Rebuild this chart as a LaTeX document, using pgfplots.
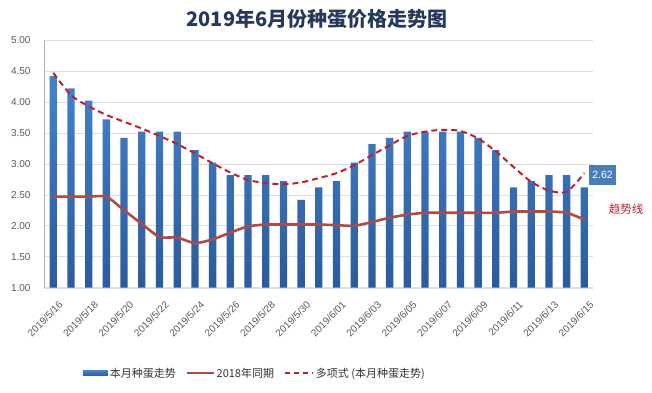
\documentclass[border=0pt]{standalone}
\usepackage{fontspec}
\setmainfont{Liberation Sans}
\newfontfamily\cjk{Noto Sans CJK SC}
\usepackage{pgfplots}
\pgfplotsset{compat=1.18}
\definecolor{bartop}{HTML}{4382CC}
\definecolor{barbot}{HTML}{2B5B9C}
\definecolor{barblue}{HTML}{3A6DB0}
\definecolor{line18}{HTML}{B04A45}
\definecolor{trendred}{HTML}{C0202A}
\definecolor{titlecol}{HTML}{253A5A}
\definecolor{tickgray}{HTML}{595959}
\definecolor{labelblue}{HTML}{4A7EBB}
\begin{document}
\begin{tikzpicture}
\useasboundingbox (-44pt,-104.3pt) rectangle (608pt,287.7pt);
\begin{axis}[
  scale only axis,
  width=549pt, height=247.7pt,
  xmin=-0.525, xmax=30.49,
  ymin=1, ymax=5,
  ytick={1,1.5,...,5},
  yticklabel style={/pgf/number format/fixed, /pgf/number format/fixed zerofill, /pgf/number format/precision=2, font=\fontsize{10}{12}\selectfont, text=tickgray, xshift=-10pt},
  /pgf/number format/assume math mode=true,
  xtick={0,2,...,30},
  xticklabels={2019/5/16,2019/5/18,2019/5/20,2019/5/22,2019/5/24,2019/5/26,2019/5/28,2019/5/30,2019/6/01,2019/6/03,2019/6/05,2019/6/07,2019/6/09,2019/6/11,2019/6/13,2019/6/15},
  xticklabel style={rotate=45, anchor=north east, font=\fontsize{10}{12}\selectfont, text=tickgray, xshift=-2pt, yshift=-9pt},
  major tick length=0pt,
  ymajorgrids,
  grid style={draw=gray!25, line width=0.6pt},
  axis x line*=bottom,
  axis y line*=left,
  x axis line style={draw=gray!25,-},
  y axis line style={draw=gray!60,-},
  clip=false,
  legend columns=3,
  legend style={draw=none, fill=none, at={(0.384,-0.345)}, anchor=center,
    font=\cjk\fontsize{11}{13}\selectfont, text=black!80,
    /tikz/every even column/.append style={column sep=8pt}},
]
\addplot[ybar, bar width=7.3pt, draw=none, top color=bartop, bottom color=barbot,
  legend image code/.code={\fill[barblue] (0pt,-2.8pt) rectangle (25pt,2.8pt);}]
coordinates {
(0,4.42)(1,4.22)(2,4.02)(3,3.72)(4,3.42)(5,3.52)(6,3.52)(7,3.52)(8,3.22)(9,3.02)
(10,2.82)(11,2.82)(12,2.82)(13,2.72)(14,2.42)(15,2.62)(16,2.72)(17,3.02)(18,3.32)(19,3.42)
(20,3.52)(21,3.52)(22,3.52)(23,3.52)(24,3.42)(25,3.22)(26,2.62)(27,2.72)(28,2.82)(29,2.82)(30,2.62)};
\addlegendentry{本月种蛋走势}
\addplot[line18, line width=2.6pt, smooth, tension=0.4, mark=none,
  legend image code/.code={\draw[draw=line18, line width=1.8pt] (0pt,0pt) -- (27pt,0pt);}]
coordinates {
(0,2.47)(1,2.47)(2,2.47)(3,2.47)(4,2.25)(5,2.03)(6,1.82)(7,1.81)(8,1.72)(9,1.78)
(10,1.89)(11,1.99)(12,2.02)(13,2.02)(14,2.02)(15,2.02)(16,2.01)(17,2.00)(18,2.06)(19,2.13)
(20,2.18)(21,2.21)(22,2.21)(23,2.21)(24,2.21)(25,2.21)(26,2.23)(27,2.23)(28,2.23)(29,2.21)(30,2.10)};
\addlegendentry{2018年同期}
\addplot[trendred, line width=2pt, dash pattern=on 6pt off 4pt, smooth, mark=none,
  legend image code/.code={\draw[draw=trendred, line width=1.8pt, dash pattern=on 5pt off 4pt] (0pt,0pt) -- (28pt,0pt);}]
coordinates {
(0,4.47)(1,4.11)(2,3.93)(3,3.79)(4,3.68)(5,3.57)(6,3.45)(7,3.32)(8,3.17)(9,3.01)
(10,2.86)(11,2.74)(12,2.69)(13,2.67)(14,2.70)(15,2.77)(16,2.85)(17,2.98)(18,3.14)(19,3.30)
(20,3.45)(21,3.52)(22,3.55)(23,3.53)(24,3.41)(25,3.20)(26,2.95)(27,2.71)(28,2.57)(29,2.55)(30,2.85)};
\addlegendentry{多项式 (本月种蛋走势)}
\node[fill=labelblue, text=white, anchor=west, inner sep=3pt, minimum height=20pt, font=\fontsize{10.5}{12}\selectfont] at (axis cs:30.27,2.82) {2.62};
\node[text=trendred, font=\cjk\fontsize{11.5}{13}\selectfont] at (axis cs:32.36,2.27) {趋势线};
\end{axis}
\node[text=titlecol, font=\cjk\bfseries\fontsize{20}{24}\selectfont] at (273pt,268.7pt) {2019年6月份种蛋价格走势图};
\end{tikzpicture}
\end{document}
